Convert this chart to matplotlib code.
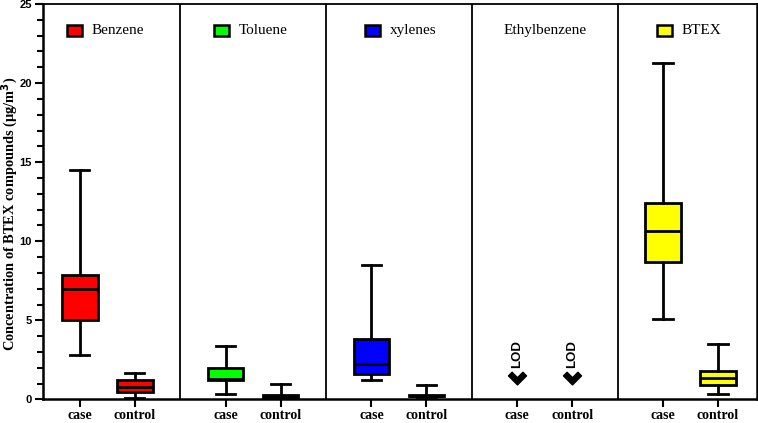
import numpy as np
import matplotlib
matplotlib.use("Agg")
import matplotlib.pyplot as plt
from matplotlib.path import Path
from matplotlib.patches import Rectangle
from matplotlib.transforms import blended_transform_factory

# data (µg/m3), min / Q1 / median / Q3 / max
compounds = ["Benzene", "Toluene", "xylenes", "Ethylbenzene", "BTEX"]
groups = ["case", "control"]
colors = ["#FF0000", "#00FF00", "#0000FF", None, "#FFFF00"]

whislo = [[2.8, 0.1], [0.33, 0.05], [1.21, 0.05], [None, None], [5.1, 0.37]]
q1 = [[5.0, 0.5], [1.23, 0.12], [1.63, 0.2], [None, None], [8.7, 0.9]]
med = [[7.0, 0.82], [1.32, 0.2], [2.22, 0.25], [None, None], [10.65, 1.36]]
q3 = [[7.9, 1.2], [1.99, 0.28], [3.8, 0.3], [None, None], [12.4, 1.8]]
whishi = [[14.5, 1.7], [3.36, 0.95], [8.5, 0.92], [None, None], [21.27, 3.53]]

lod_level = 1.3  # ethylbenzene below limit of detection

panel_step = 2.655
legend_dx = [(-0.1, 0.22), (-0.07, 0.24), (0.02, 0.33), None, (0.03, 0.33)]

fig = plt.figure(figsize=(7.58, 4.23), dpi=100)
ax = fig.add_axes([0.0567, 0.0556, 0.942, 0.935])

ticks = []
for i, name in enumerate(compounds):
    base = i * panel_step
    xs = [base, base + 1]
    ticks += xs
    if colors[i] is not None:
        stats = []
        for j in range(2):
            stats.append(dict(whislo=whislo[i][j], q1=q1[i][j], med=med[i][j],
                              q3=q3[i][j], whishi=whishi[i][j], fliers=[]))
        ax.bxp(stats, positions=xs, widths=0.65, patch_artist=True,
               showfliers=False, manage_ticks=False,
               boxprops=dict(facecolor=colors[i], edgecolor="black", linewidth=2),
               medianprops=dict(color="black", linewidth=2),
               whiskerprops=dict(color="black", linewidth=2),
               capprops=dict(color="black", linewidth=2), capwidths=0.35)
    else:
        chev = Path([(-1, 0.4), (0, -0.6), (1, 0.4), (0.6, 0.8), (0, 0.2),
                     (-0.6, 0.8), (-1, 0.4)],
                    [Path.MOVETO] + [Path.LINETO] * 5 + [Path.CLOSEPOLY])
        for x in xs:
            ax.plot(x, lod_level, marker=chev, markersize=13, color="black",
                    linestyle="none")
            ax.annotate("LOD", (x, lod_level), xytext=(0, 8),
                        textcoords="offset points", rotation=90,
                        ha="center", va="bottom", fontsize=9.5,
                        fontweight="bold", family="Liberation Sans")

    # separators between panels
    if i < len(compounds) - 1:
        ax.axvline(base + 1 + (panel_step - 1) / 2, color="black", linewidth=1.3)

    # per-panel legend entry
    trans = blended_transform_factory(ax.transData, ax.transAxes)
    if legend_dx[i] is None:
        ax.text(base + 0.5, 0.932, name, transform=trans, ha="center",
                va="center", fontsize=11, family="Liberation Serif")
    else:
        px, tx = legend_dx[i]
        ax.add_patch(Rectangle((base + px - 0.135, 0.918), 0.27, 0.03,
                               transform=trans, facecolor=colors[i],
                               edgecolor="black", linewidth=1.8,
                               clip_on=False))
        ax.text(base + tx, 0.932, name, transform=trans, ha="left",
                va="center", fontsize=11, family="Liberation Serif")

ax.set_xlim(-0.67, 4 * panel_step + 1.71)
ax.set_ylim(0, 25)
ax.set_xticks(ticks)
ax.set_xticklabels(groups * len(compounds), fontsize=10, fontweight="bold",
                   family="Liberation Serif")
ax.set_yticks(np.arange(0, 26, 5))
ax.set_yticks(np.arange(0, 26, 1), minor=True)
for lab in ax.get_yticklabels():
    lab.set_fontweight("bold")
    lab.set_family("Liberation Sans")
    lab.set_fontsize(8)
ax.tick_params(axis="y", which="major", length=6, width=1.5, pad=2)
ax.tick_params(axis="y", which="minor", length=4, width=1.5)
ax.tick_params(axis="x", which="major", length=6, width=1.5, pad=1)
for s in ax.spines.values():
    s.set_linewidth(1.8)
ax.spines["top"].set_linewidth(1.3)

ax.set_ylabel("Concentration of BTEX compounds (μg/m$^\\mathbf{3}$)", fontsize=10.4,
              fontweight="bold", family="Liberation Serif")
ax.yaxis.set_label_coords(-0.0315, 0.47)

fig.savefig("out.png", dpi=100)
